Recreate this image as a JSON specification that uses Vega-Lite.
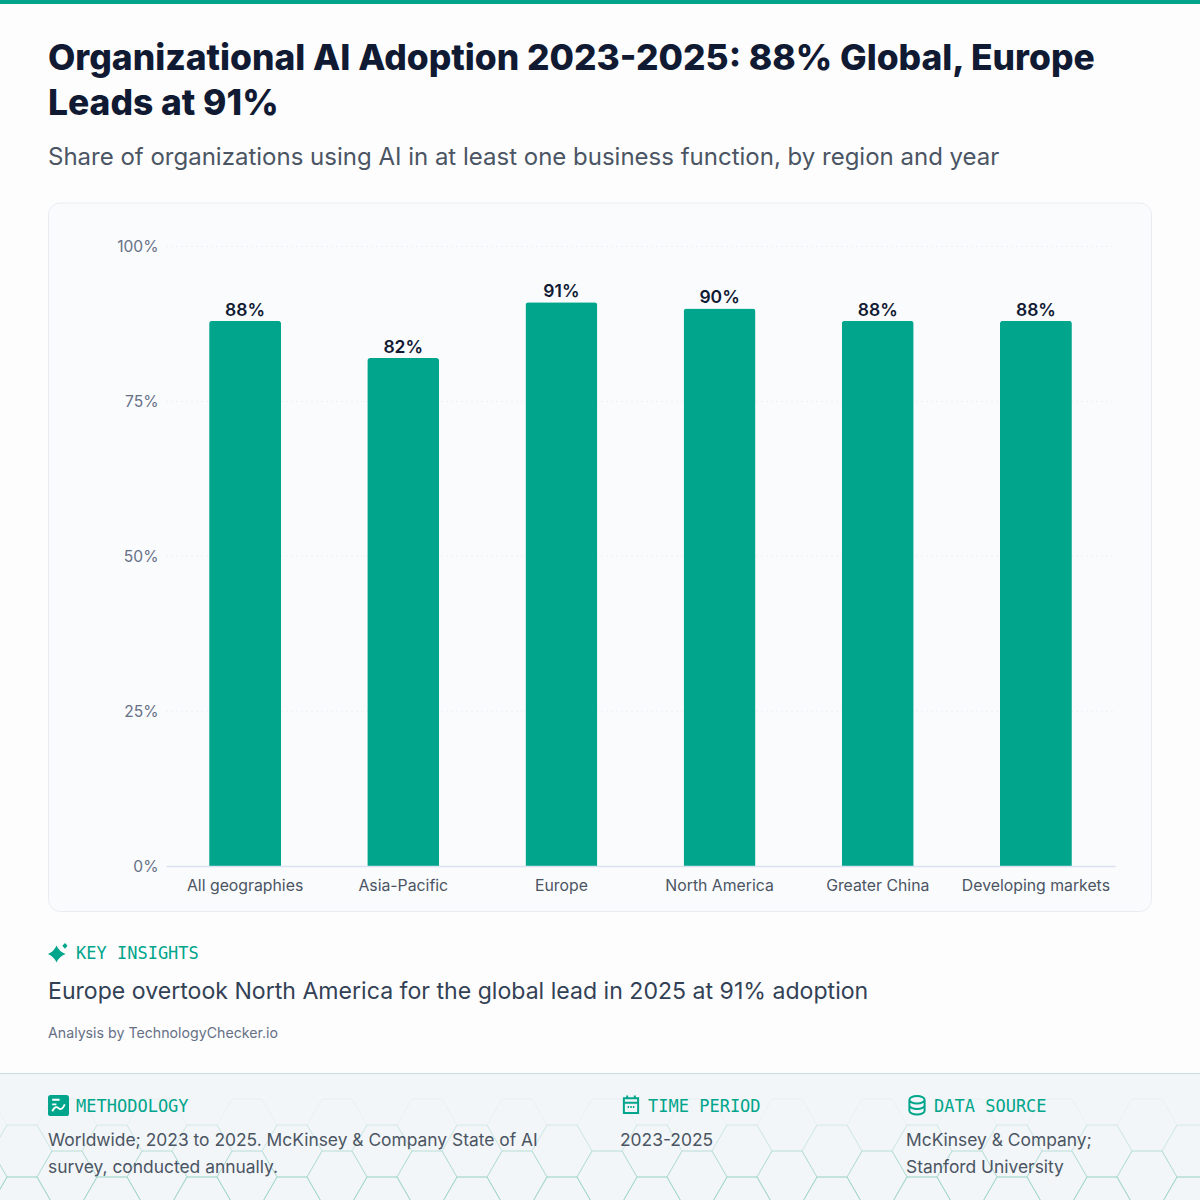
{
  "$schema": "https://vega.github.io/schema/vega-lite/v6.json",
  "width": 1200,
  "height": 1200,
  "padding": 0,
  "autosize": {"type": "none"},
  "background": "#fdfdfe",
  "config": {"view": {"stroke": null}, "text": {"font": "Inter"}},
  "resolve": {"scale": {"x": "independent", "y": "independent", "opacity": "independent", "shape": "independent"}},
  "layer": [
    {
      "data": {"values": [{"from": 0, "to": 1}]},
      "mark": {"type": "rect", "fill": "#00a58b"},
      "encoding": {
        "x": {"field": "from", "type": "quantitative", "scale": {"domain": [0, 1], "range": [0, 1200]}, "axis": null},
        "x2": {"field": "to"},
        "y": {"field": "from", "type": "quantitative", "scale": {"domain": [0, 1], "range": [0, 4]}, "axis": null},
        "y2": {"field": "to"}
      }
    },
    {
      "data": {"values": [{"from": 0, "to": 1}]},
      "mark": {"type": "rect", "fill": "#fafbfd", "stroke": "#e8ecf1", "strokeWidth": 1, "cornerRadius": 12},
      "encoding": {
        "x": {"field": "from", "type": "quantitative", "scale": {"domain": [0, 1], "range": [48.5, 1151.5]}, "axis": null},
        "x2": {"field": "to"},
        "y": {"field": "from", "type": "quantitative", "scale": {"domain": [0, 1], "range": [911.5, 203]}, "axis": null},
        "y2": {"field": "to"}
      }
    },
    {
      "data": {"values": [{"from": 0, "to": 1}]},
      "mark": {"type": "rect", "fill": "#f3f6f8", "stroke": "#c5e0dc", "strokeWidth": 1},
      "encoding": {
        "x": {"field": "from", "type": "quantitative", "scale": {"domain": [0, 1], "range": [-3, 1203]}, "axis": null},
        "x2": {"field": "to"},
        "y": {"field": "from", "type": "quantitative", "scale": {"domain": [0, 1], "range": [1204, 1073.5]}, "axis": null},
        "y2": {"field": "to"}
      }
    },
    {
      "data": {"values": [
        {"col": -1, "row": 0}, {"col": -1, "row": 2},
        {"col": 0, "row": 1}, {"col": 0, "row": 3},
        {"col": 1, "row": 0}, {"col": 1, "row": 2},
        {"col": 2, "row": 1}, {"col": 2, "row": 3},
        {"col": 3, "row": 0}, {"col": 3, "row": 2},
        {"col": 4, "row": 1}, {"col": 4, "row": 3},
        {"col": 5, "row": 0}, {"col": 5, "row": 2},
        {"col": 6, "row": 1}, {"col": 6, "row": 3},
        {"col": 7, "row": 0}, {"col": 7, "row": 2},
        {"col": 8, "row": 1}, {"col": 8, "row": 3},
        {"col": 9, "row": 0}, {"col": 9, "row": 2},
        {"col": 10, "row": 1}, {"col": 10, "row": 3},
        {"col": 11, "row": 0}, {"col": 11, "row": 2},
        {"col": 12, "row": 1}, {"col": 12, "row": 3},
        {"col": 13, "row": 0}, {"col": 13, "row": 2},
        {"col": 14, "row": 1}, {"col": 14, "row": 3},
        {"col": 15, "row": 0}, {"col": 15, "row": 2},
        {"col": 16, "row": 1}, {"col": 16, "row": 3},
        {"col": 17, "row": 0}, {"col": 17, "row": 2},
        {"col": 18, "row": 1}, {"col": 18, "row": 3},
        {"col": 19, "row": 0}, {"col": 19, "row": 2},
        {"col": 20, "row": 1}, {"col": 20, "row": 3},
        {"col": 21, "row": 0}, {"col": 21, "row": 2},
        {"col": 22, "row": 1}, {"col": 22, "row": 3},
        {"col": 23, "row": 0}, {"col": 23, "row": 2},
        {"col": 24, "row": 1}, {"col": 24, "row": 3},
        {"col": 25, "row": 0}, {"col": 25, "row": 2},
        {"col": 26, "row": 1}, {"col": 26, "row": 3}
      ]},
      "mark": {
        "type": "point",
        "shape": "M-1,0L-0.5,-0.866L0.5,-0.866L1,0L0.5,0.866L-0.5,0.866Z",
        "size": 3600,
        "filled": false,
        "stroke": "#8fcfc3",
        "strokeWidth": 1
      },
      "encoding": {
        "x": {"field": "col", "type": "quantitative", "scale": {"domain": [0, 26], "range": [22, 1192], "nice": false, "zero": false}, "axis": null},
        "y": {"field": "row", "type": "quantitative", "scale": {"domain": [0, 3], "range": [1125, 1203], "nice": false, "zero": false}, "axis": null},
        "opacity": {"field": "row", "type": "quantitative", "scale": {"domain": [0, 3], "range": [0.1, 0.7]}, "legend": null}
      }
    },
    {
      "data": {"values": [
        {"tick": 0.25, "from": 0, "to": 1},
        {"tick": 0.5, "from": 0, "to": 1},
        {"tick": 0.75, "from": 0, "to": 1},
        {"tick": 1, "from": 0, "to": 1}
      ]},
      "mark": {"type": "rule", "stroke": "#eef1f5", "strokeWidth": 1, "strokeDash": [2, 3]},
      "encoding": {
        "x": {"field": "from", "type": "quantitative", "scale": {"domain": [0, 1], "range": [166, 1115]}, "axis": null},
        "x2": {"field": "to"},
        "y": {"field": "tick", "type": "quantitative", "scale": {"domain": [0, 1], "range": [866, 246.5]}, "axis": null}
      }
    },
    {
      "data": {"name": "adoption", "values": [
        {"region": "All geographies", "share": 0.88},
        {"region": "Asia-Pacific", "share": 0.82},
        {"region": "Europe", "share": 0.91},
        {"region": "North America", "share": 0.9},
        {"region": "Greater China", "share": 0.88},
        {"region": "Developing markets", "share": 0.88}
      ]},
      "mark": {"type": "bar", "fill": "#00a58b", "cornerRadiusTopLeft": 3, "cornerRadiusTopRight": 3},
      "encoding": {
        "x": {
          "field": "region",
          "type": "nominal",
          "sort": null,
          "scale": {"type": "band", "range": [166, 1115], "paddingInner": 0.545, "paddingOuter": 0.2725},
          "axis": {
            "title": null,
            "offset": -334,
            "zindex": 1,
            "labelAngle": 0,
            "labelPadding": 12,
            "labelFont": "Inter",
            "labelFontSize": 15.8,
            "labelColor": "#4b5563",
            "labelLimit": 200,
            "ticks": false,
            "domainColor": "#dbe1f0",
            "domainWidth": 1.5,
            "grid": false
          }
        },
        "y": {
          "field": "share",
          "type": "quantitative",
          "scale": {"domain": [0, 1], "range": [866, 246.5]},
          "axis": {
            "title": null,
            "offset": -158,
            "zindex": 1,
            "values": [0, 0.25, 0.5, 0.75, 1],
            "format": ".0%",
            "labelPadding": 0,
            "labelFont": "Inter",
            "labelFontSize": 15.6,
            "labelColor": "#667085",
            "ticks": false,
            "domain": false,
            "grid": false
          }
        }
      }
    },
    {
      "data": {"name": "adoption"},
      "mark": {"type": "text", "font": "Inter", "fontSize": 17.5, "fontWeight": 600, "fill": "#111a33", "baseline": "alphabetic", "dy": -5},
      "encoding": {
        "x": {
          "field": "region",
          "type": "nominal",
          "sort": null,
          "scale": {"type": "band", "range": [166, 1115], "paddingInner": 0.545, "paddingOuter": 0.2725},
          "axis": null
        },
        "y": {"field": "share", "type": "quantitative", "scale": {"domain": [0, 1], "range": [866, 246.5]}, "axis": null},
        "text": {"field": "share", "type": "quantitative", "format": ".0%"}
      }
    },
    {
      "data": {"values": [{"role": "headline", "text": "Organizational AI Adoption 2023-2025: 88% Global, Europe\nLeads at 91%"}]},
      "mark": {"type": "text", "font": "Inter", "fontSize": 35.4, "fontWeight": 800, "fill": "#111a33", "align": "left", "baseline": "alphabetic", "lineBreak": "\n", "lineHeight": 45},
      "encoding": {
        "x": {"field": "role", "type": "nominal", "scale": {"type": "point", "padding": 0, "range": [48, 48]}, "axis": null},
        "y": {"field": "role", "type": "nominal", "scale": {"type": "point", "padding": 0, "range": [70, 70]}, "axis": null},
        "text": {"field": "text"}
      }
    },
    {
      "data": {"values": [{"role": "subtitle", "text": "Share of organizations using AI in at least one business function, by region and year"}]},
      "mark": {"type": "text", "font": "Inter", "fontSize": 24, "fill": "#4b5563", "align": "left", "baseline": "alphabetic"},
      "encoding": {
        "x": {"field": "role", "type": "nominal", "scale": {"type": "point", "padding": 0, "range": [48, 48]}, "axis": null},
        "y": {"field": "role", "type": "nominal", "scale": {"type": "point", "padding": 0, "range": [165, 165]}, "axis": null},
        "text": {"field": "text"}
      }
    },
    {
      "data": {"values": [{"icon": "sparkle"}]},
      "mark": {
        "type": "point",
        "filled": true,
        "fill": "#00a58b",
        "opacity": 1,
        "size": 400,
        "shape": "M-.15,-.75Q.1,-.15 .75,.1Q.1,.35 -.15,.95Q-.4,.35 -1,.1Q-.4,-.15 -.15,-.75ZM.7,-1L.95,-.72L.7,-.42L.43,-.72Z"
      },
      "encoding": {
        "x": {"field": "icon", "type": "nominal", "scale": {"type": "point", "padding": 0, "range": [58, 58]}, "axis": null},
        "y": {"field": "icon", "type": "nominal", "scale": {"type": "point", "padding": 0, "range": [953, 953]}, "axis": null}
      }
    },
    {
      "data": {"values": [{"role": "insights heading", "text": "KEY INSIGHTS"}]},
      "mark": {"type": "text", "font": "DejaVu Sans Mono", "fontSize": 17, "fill": "#00a58b", "align": "left", "baseline": "alphabetic"},
      "encoding": {
        "x": {"field": "role", "type": "nominal", "scale": {"type": "point", "padding": 0, "range": [76, 76]}, "axis": null},
        "y": {"field": "role", "type": "nominal", "scale": {"type": "point", "padding": 0, "range": [959, 959]}, "axis": null},
        "text": {"field": "text"}
      }
    },
    {
      "data": {"values": [{"role": "insight", "text": "Europe overtook North America for the global lead in 2025 at 91% adoption"}]},
      "mark": {"type": "text", "font": "Inter", "fontSize": 23.1, "fill": "#334155", "align": "left", "baseline": "alphabetic"},
      "encoding": {
        "x": {"field": "role", "type": "nominal", "scale": {"type": "point", "padding": 0, "range": [48, 48]}, "axis": null},
        "y": {"field": "role", "type": "nominal", "scale": {"type": "point", "padding": 0, "range": [999, 999]}, "axis": null},
        "text": {"field": "text"}
      }
    },
    {
      "data": {"values": [{"role": "credit", "text": "Analysis by TechnologyChecker.io"}]},
      "mark": {"type": "text", "font": "Inter", "fontSize": 14.2, "fill": "#667085", "align": "left", "baseline": "alphabetic"},
      "encoding": {
        "x": {"field": "role", "type": "nominal", "scale": {"type": "point", "padding": 0, "range": [48, 48]}, "axis": null},
        "y": {"field": "role", "type": "nominal", "scale": {"type": "point", "padding": 0, "range": [1038, 1038]}, "axis": null},
        "text": {"field": "text"}
      }
    },
    {
      "data": {"values": [{"section": "Methodology", "icon": "square"}]},
      "mark": {
        "type": "point",
        "filled": true,
        "fill": "#00a58b",
        "opacity": 1,
        "size": 441,
        "shape": "M-.75,-1H.75Q1,-1 1,-.75V.75Q1,1 .75,1H-.75Q-1,1 -1,.75V-.75Q-1,-1 -.75,-1Z"
      },
      "encoding": {
        "x": {"field": "section", "type": "nominal", "scale": {"type": "point", "padding": 0, "domain": ["Methodology", "", "Time period", "Data source"], "range": [58.5, 916.5]}, "axis": null},
        "y": {"field": "icon", "type": "nominal", "scale": {"type": "point", "padding": 0, "range": [1105.5, 1105.5]}, "axis": null}
      }
    },
    {
      "data": {"values": [{"section": "Methodology", "icon": "zigzag"}]},
      "mark": {
        "type": "point",
        "filled": false,
        "stroke": "#ffffff",
        "strokeWidth": 1.8,
        "opacity": 1,
        "size": 441,
        "shape": "M-.6,-.55H.1M-.6,-.1H-.2M-.6,.55Q-.3,-.05 0,.25T.6,-.1"
      },
      "encoding": {
        "x": {"field": "section", "type": "nominal", "scale": {"type": "point", "padding": 0, "domain": ["Methodology", "", "Time period", "Data source"], "range": [58.5, 916.5]}, "axis": null},
        "y": {"field": "icon", "type": "nominal", "scale": {"type": "point", "padding": 0, "range": [1105.5, 1105.5]}, "axis": null}
      }
    },
    {
      "data": {"values": [{"section": "Time period", "icon": "calendar"}, {"section": "Data source", "icon": "database"}]},
      "mark": {"type": "point", "filled": false, "stroke": "#00a58b", "strokeWidth": 2, "opacity": 1, "size": 361},
      "encoding": {
        "x": {"field": "section", "type": "nominal", "scale": {"type": "point", "padding": 0, "domain": ["Methodology", "", "Time period", "Data source"], "range": [59, 917]}, "axis": null},
        "y": {"field": "section", "type": "nominal", "scale": {"type": "point", "padding": 0, "range": [1105, 1105]}, "axis": null},
        "shape": {
          "field": "icon",
          "type": "nominal",
          "scale": {
            "domain": ["calendar", "database"],
            "range": [
              "M-.75,-.7H.75V.85H-.75ZM-.75,-.25H.75M-.4,-1V-.7M.4,-1V-.7M-.35,.2H-.2M-.07,.2H.08M.2,.2H.35",
              "M-.8,-.55A.8,.4 0 1 1 .8,-.55A.8,.4 0 1 1 -.8,-.55M-.8,-.55V.6A.8,.4 0 0 0 .8,.6V-.55M-.8,.03A.8,.4 0 0 0 .8,.03"
            ]
          },
          "legend": null
        }
      }
    },
    {
      "data": {"values": [
        {"section": "Methodology", "heading": "METHODOLOGY"},
        {"section": "Time period", "heading": "TIME PERIOD"},
        {"section": "Data source", "heading": "DATA SOURCE"}
      ]},
      "mark": {"type": "text", "font": "DejaVu Sans Mono", "fontSize": 17, "fill": "#00a58b", "align": "left", "baseline": "alphabetic"},
      "encoding": {
        "x": {"field": "section", "type": "nominal", "scale": {"type": "point", "padding": 0, "domain": ["Methodology", "", "Time period", "Data source"], "range": [76, 934]}, "axis": null},
        "y": {"field": "section", "type": "nominal", "scale": {"type": "point", "padding": 0, "range": [1112, 1112]}, "axis": null},
        "text": {"field": "heading"}
      }
    },
    {
      "data": {"values": [
        {"section": "Methodology", "body": "Worldwide; 2023 to 2025. McKinsey & Company State of AI\nsurvey, conducted annually."},
        {"section": "Time period", "body": "2023-2025"},
        {"section": "Data source", "body": "McKinsey & Company;\nStanford University"}
      ]},
      "mark": {"type": "text", "font": "Inter", "fontSize": 17.4, "fill": "#4b5563", "align": "left", "baseline": "alphabetic", "lineBreak": "\n", "lineHeight": 27},
      "encoding": {
        "x": {"field": "section", "type": "nominal", "scale": {"type": "point", "padding": 0, "domain": ["Methodology", "", "Time period", "Data source"], "range": [48, 906]}, "axis": null},
        "y": {"field": "section", "type": "nominal", "scale": {"type": "point", "padding": 0, "range": [1146, 1146]}, "axis": null},
        "text": {"field": "body"}
      }
    }
  ]
}
